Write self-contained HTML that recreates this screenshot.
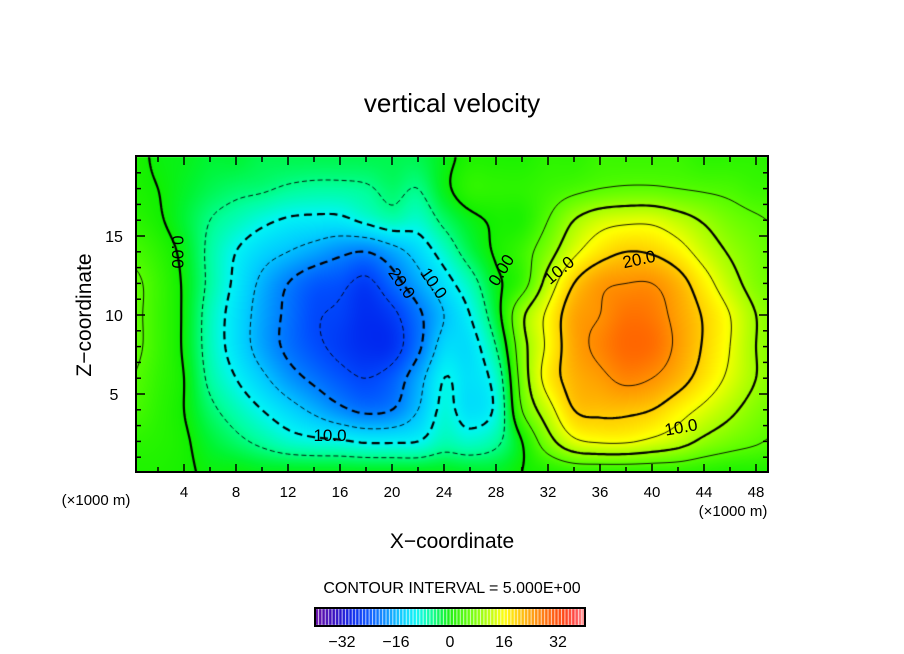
<!DOCTYPE html>
<html><head><meta charset="utf-8">
<style>
html,body{margin:0;padding:0;background:#fff;}
#wrap{position:relative;width:904px;height:654px;overflow:hidden;font-family:"Liberation Sans","DejaVu Sans",sans-serif;}
canvas{position:absolute;left:0;top:0;}
svg{position:absolute;left:0;top:0;}
</style></head>
<body>
<div id="wrap">
<canvas id="cv" width="904" height="654"></canvas>
<svg id="sv" width="904" height="654"></svg>
</div>
<script>
// ---- data (vertical velocity, rows by z = 0,2,...,20 ; columns x = 0,2,...,50) ----
const xCoords = [0,2,4,6,8,10,12,14,16,18,20,22,24,26,28,30,32,34,36,38,40,42,44,46,48,50];
const zCoords = [0,2,4,6,8,10,12,14,16,18,20];
const wZ00 = [1,1,0.5,-0.5,-0.5,-1,-1,-1,-1,-1,-1,-1,-1,-1.5,-1.5,0,1,2,2,2,2,2,1.5,1,1,1];
const wZ02 = [2,1.5,0.5,-2,-4,-6,-8,-9,-9.5,-10.5,-10.5,-10,-7,-8,-6,0,8,14,15.5,15.5,14,12,9,7,5.5,4];
const wZ04 = [4,2,0,-4,-7,-10,-13,-16,-19,-21,-20,-15,-9,-12,-9,5,13,20,21,21,20,17,14,11,8,6];
const wZ06 = [5,2.5,0,-6,-10,-14,-18,-21,-23.5,-25,-23,-17,-10,-12,-8,7,17,22,24,26,25,22,18,14,10,7];
const wZ08 = [6,3,-0.5,-7,-12,-17,-21,-24,-26,-27.5,-27,-21,-13,-12,-5,8,16,23,26,28.5,28,24,19.5,15,10,7];
const wZ10 = [6,3,-0.5,-7,-12,-17,-21,-24.5,-25.5,-27.5,-26,-21,-15,-10,-2,9,16,23,25,27.5,27,23.5,19.5,15,10,7];
const wZ12 = [6,3,-0.5,-6,-11,-16,-20,-23,-24,-26,-22,-17,-12,-7,-1,3,12,20,24,25,25,22,17,12,8,6];
const wZ14 = [4,2,-1,-6,-10,-13,-15,-17,-19,-20,-17,-13,-8,-3,0.5,3,8,14,18,20,19.5,17,13,9.5,7,5];
const wZ16 = [2,0.5,-2,-5,-7,-9,-10.5,-11,-11,-9,-7,-8,-4,-1,0.5,1,5,10,13,14,14,12,9.5,7,5.5,4.5];
const wZ18 = [1,0,-1.5,-3,-4,-4.5,-5.5,-6,-6,-5.5,-4,-5,-1,2,2,2,3,4,5,5.5,5.5,5,4.5,4,3,3];
const wZ20 = [1,-0.5,-1,-2,-2,-3,-3,-3,-3,-3,-3,-3,-1,1,1,1,2,2,3,3,3,3,2,2,2,1];
const fieldRows = [wZ00,wZ02,wZ04,wZ06,wZ08,wZ10,wZ12,wZ14,wZ16,wZ18,wZ20];
const contourLevels = [-30,-25,-20,-15,-10,-5,0,5,10,15,20,25,30];
const xTickLabels = [4,8,12,16,20,24,28,32,36,40,44,48];
const zTickLabels = [5,10,15];
const cbTickLabels = [-32,-16,0,16,32];

// ---- axes ----
const PL=136, PR=768, PT=157, PB=472;
const X = x => 132 + 13*x;
const Z = z => 473 - 15.8*z;
const CB = v => 450 + v*3.375;

const stops = [[-40,[96,0,160]],[-34,[40,0,190]],[-29,[0,30,235]],[-24,[0,80,255]],[-19,[0,140,255]],[-14,[0,205,255]],[-10,[0,245,245]],[-6,[0,255,160]],[-2,[0,245,50]],[0,[16,240,0]],[6,[100,255,0]],[12,[190,255,0]],[16,[255,255,0]],[22,[255,180,0]],[28,[255,110,0]],[33,[255,60,0]],[37,[255,60,60]],[40,[255,150,150]]];
function cmap(v){
  if(v<=stops[0][0]) return stops[0][1];
  for(let k=1;k<stops.length;k++){
    if(v<=stops[k][0]){const a=stops[k-1],b=stops[k];const t=(v-a[0])/(b[0]-a[0]);
      return [0,1,2].map(c=>Math.round(a[1][c]+(b[1][c]-a[1][c])*t));}
  }
  return stops[stops.length-1][1];
}
function cr(p0,p1,p2,p3,t){return 0.5*((2*p1)+(-p0+p2)*t+(2*p0-5*p1+4*p2-p3)*t*t+(-p0+3*p1-3*p2+p3)*t*t*t);}
function g(i,j){i=Math.max(0,Math.min(xCoords.length-1,i));j=Math.max(0,Math.min(zCoords.length-1,j));return fieldRows[j][i];}
function field(x,z){
  const fx=x/2, fz=z/2; const i=Math.floor(fx), j=Math.floor(fz); const tx=fx-i, tz=fz-j;
  const r=[];
  for(let m=-1;m<=2;m++) r.push(cr(g(i-1,j+m),g(i,j+m),g(i+1,j+m),g(i+2,j+m),tx));
  return cr(r[0],r[1],r[2],r[3],tz);
}
const cv=document.getElementById('cv'); const ctx=cv.getContext('2d');
const W=PR-PL, H=PB-PT;
const img=ctx.createImageData(W,H);
for(let py=0;py<H;py++){for(let px=0;px<W;px++){
  const x=(PL+px+0.5-132)/13, z=(473-(PT+py+0.5))/15.8;
  const c=cmap(field(x,z)); const o=(py*W+px)*4;
  img.data[o]=c[0];img.data[o+1]=c[1];img.data[o+2]=c[2];img.data[o+3]=255;}}
ctx.putImageData(img,PL,PT);

// ---- contours (marching squares on sampled field) ----
const STEP=3; const NX=Math.ceil(W/STEP)+1, NY=Math.ceil(H/STEP)+1;
const sv=[];
for(let j=0;j<NY;j++){const row=[];for(let i=0;i<NX;i++){const px=PL+i*STEP,py=PT+j*STEP;row.push(field((px-132)/13,(473-py)/15.8));}sv.push(row);}
function contourLines(L){
  const pts={}, adj={}, segs=[];
  const add=(k,p)=>{pts[k]=p;};
  for(let j=0;j<NY-1;j++)for(let i=0;i<NX-1;i++){
    const a=sv[j][i],b=sv[j][i+1],c=sv[j+1][i+1],d=sv[j+1][i];
    const x0=PL+i*STEP,y0=PT+j*STEP;
    const E=(va,vb,key,p0,p1)=>{ if((va>=L)!==(vb>=L)){const t=(L-va)/(vb-va);add(key,[p0[0]+(p1[0]-p0[0])*t,p0[1]+(p1[1]-p0[1])*t]);return key;}return null;};
    const top=E(a,b,'h'+i+'_'+j,[x0,y0],[x0+STEP,y0]);
    const right=E(b,c,'v'+(i+1)+'_'+j,[x0+STEP,y0],[x0+STEP,y0+STEP]);
    const bot=E(d,c,'h'+i+'_'+(j+1),[x0,y0+STEP],[x0+STEP,y0+STEP]);
    const left=E(a,d,'v'+i+'_'+j,[x0,y0],[x0,y0+STEP]);
    const list=[top,right,bot,left].filter(k=>k);
    if(list.length===2) segs.push([list[0],list[1]]);
    else if(list.length===4){const cen=(a+b+c+d)/4;
      if((a>=L)!==(cen>=L)){segs.push([top,left]);segs.push([right,bot]);}
      else {segs.push([top,right]);segs.push([bot,left]);}}
  }
  segs.forEach((s,n)=>{(adj[s[0]]=adj[s[0]]||[]).push(n);(adj[s[1]]=adj[s[1]]||[]).push(n);});
  const used=new Array(segs.length).fill(false); const lines=[];
  const walk=(start)=>{const out=[];let k=start;
    while(true){const nx=(adj[k]||[]).find(n=>!used[n]);if(nx===undefined)break;used[nx]=true;const s=segs[nx];k=(s[0]===k)?s[1]:s[0];out.push(k);}return out;};
  for(let n=0;n<segs.length;n++){if(used[n])continue;used[n]=true;
    const f=walk(segs[n][1]); const b=walk(segs[n][0]);
    const keys=b.reverse().concat([segs[n][0],segs[n][1]]).concat(f);
    lines.push(keys.map(k=>pts[k]));}
  return lines;
}
ctx.save();ctx.beginPath();ctx.rect(PL,PT,W,H);ctx.clip();
contourLevels.forEach(L=>{
  const bold=(L%10===0);
  ctx.strokeStyle='#000';ctx.lineWidth=bold?2.2:0.9;
  ctx.setLineDash(L<0?(bold?[8,5]:[5,3]):[]);
  contourLines(L).forEach(pl=>{ctx.beginPath();pl.forEach((p,q)=>q?ctx.lineTo(p[0],p[1]):ctx.moveTo(p[0],p[1]));ctx.stroke();});
});
ctx.restore();ctx.setLineDash([]);

// ---- colorbar ----
for(let v=-40;v<40;v++){
  const c=cmap(v+0.5);ctx.fillStyle='rgb('+c.join(',')+')';
  ctx.fillRect(CB(v)+0.6,609,CB(v+1)-CB(v)-0.9,16);
}

// ---- SVG overlay ----
const NS='http://www.w3.org/2000/svg'; const svg=document.getElementById('sv');
function el(tag,attrs,parent){const e=document.createElementNS(NS,tag);for(const k in attrs)e.setAttribute(k,attrs[k]);(parent||svg).appendChild(e);return e;}
const frame=el('rect',{x:PL,y:PT-1,width:W,height:H+1,fill:'none',stroke:'#000','stroke-width':2});


const ticks=el('g',{stroke:'#000','stroke-width':1.5});


for(let x=2;x<=48;x+=2){const L=(x%4===0)?8:5;
  el('line',{x1:X(x),x2:X(x),y1:PB,y2:PB-L},ticks);el('line',{x1:X(x),x2:X(x),y1:PT,y2:PT+L},ticks);}
for(let z=1;z<=19;z++){const L=(z%5===0)?9:5;
  el('line',{x1:PL,x2:PL+L,y1:Z(z),y2:Z(z)},ticks);el('line',{x1:PR,x2:PR-L,y1:Z(z),y2:Z(z)},ticks);}
function txt(s,x,y,size,name,extra){const t=el('text',Object.assign({x:x,y:y,'font-size':size,'text-anchor':'middle',fill:'#000'},extra||{}));t.textContent=s;
  
  
  return t;}
xTickLabels.forEach(v=>txt(String(v),X(v),497,15,'x-tick-label'));
zTickLabels.forEach(v=>txt(String(v),114,Z(v)+6,16,'z-tick-label'));
txt('vertical velocity',452,112,26,'chart-title');
txt('X\u2212coordinate',452,548,21,'x-axis-title');
txt('Z\u2212coordinate',0,0,21,'y-axis-title',{transform:'translate(91,315) rotate(-90)'});
txt('(\u00d71000 m)',96,505,15,'x-unit-left');
txt('(\u00d71000 m)',733,516,15,'x-unit-right');
txt('CONTOUR INTERVAL = 5.000E+00',452,593,16,'contour-interval-label');
cbTickLabels.forEach(v=>txt(String(v).replace('-','\u2212'),CB(v),647,16,'colorbar-tick-label'));
const cbf=el('rect',{x:CB(-40),y:608,width:CB(40)-CB(-40),height:18,fill:'none',stroke:'#000','stroke-width':2});


// contour labels
[['0.00',178,252,90],['0.00',501,270,-58],['10.0',434,283,55],['20.0',402,283,55],['10.0',330,435,0],['10.0',559,270,-40],['20.0',639,259,-12],['10.0',681,427,-10]].forEach(l=>{
  txt(l[0],0,0,17,'contour-label',{transform:'translate('+l[1]+','+l[2]+') rotate('+l[3]+')',dy:6});
});
</script>
</body></html>
